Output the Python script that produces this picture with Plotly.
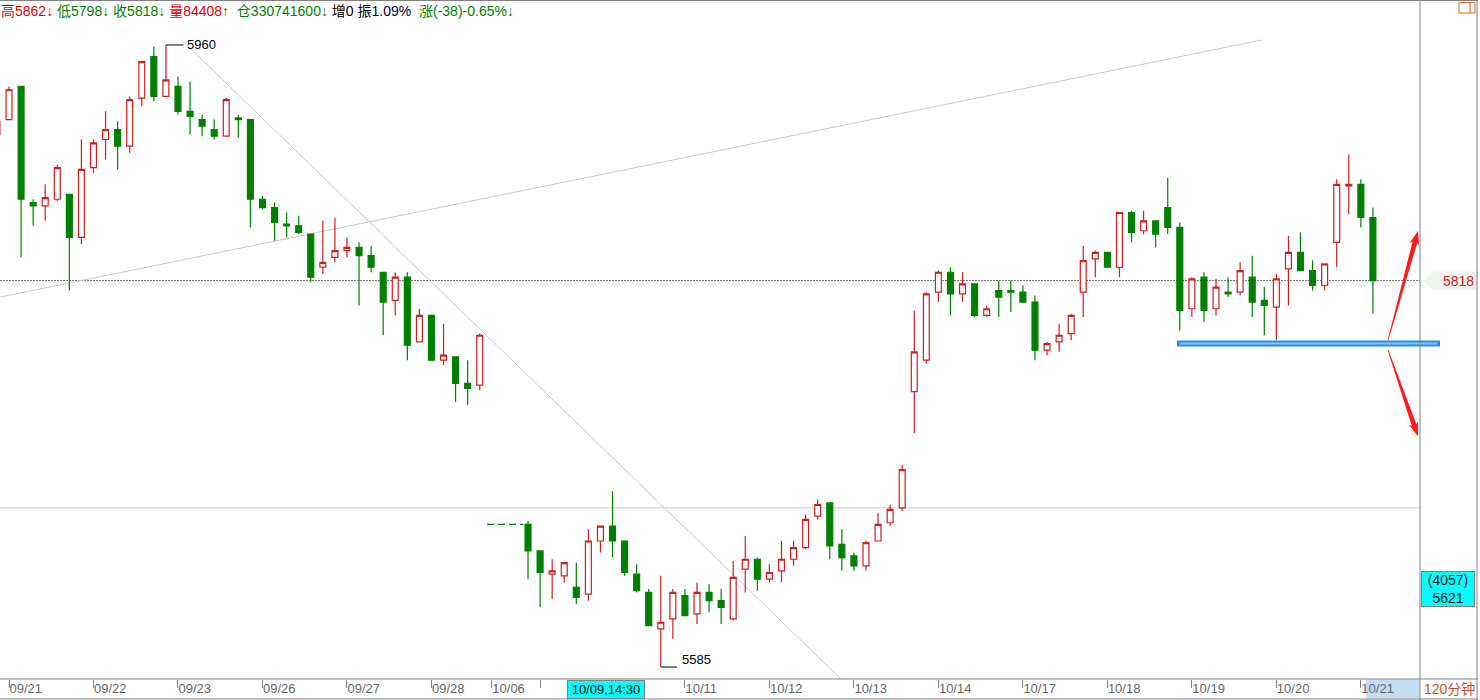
import plotly.graph_objects as go

# ---------------- data (120-minute bars) ----------------
bar_index = list(range(-1, 40)) + list(range(43, 114))
open_ = [5906, 5915, 5935, 5865, 5863, 5867, 5870, 5844, 5886, 5903, 5909, 5899, 5928, 5953, 5929,
         5935, 5920, 5915, 5909, 5905, 5916, 5915, 5867, 5862, 5852, 5851, 5846, 5826, 5832, 5836,
         5838, 5833, 5823, 5806, 5820, 5781, 5797, 5770, 5772, 5756, 5755,
         5671, 5655, 5641, 5640, 5633, 5629, 5661, 5670, 5661, 5641, 5630, 5608, 5614, 5628, 5617,
         5630, 5625, 5614, 5644, 5650, 5638, 5643, 5650, 5657, 5676, 5684, 5659, 5652, 5646, 5661,
         5672, 5681, 5751, 5770, 5811, 5823, 5810, 5816, 5797, 5812, 5812, 5811, 5805, 5776, 5781,
         5786, 5811, 5831, 5835, 5826, 5859, 5848, 5854, 5862, 5850, 5801, 5820, 5801, 5811, 5811,
         5820, 5806, 5802, 5825, 5835, 5824, 5815, 5841, 5875, 5876, 5856]
high = [5915, 5935, 5935, 5867, 5876, 5888, 5870, 5903, 5903, 5920, 5914, 5929, 5950, 5959, 5960,
        5941, 5938, 5918, 5915, 5928, 5918, 5915, 5869, 5865, 5859, 5857, 5846, 5854, 5856, 5844,
        5841, 5839, 5823, 5823, 5823, 5801, 5797, 5792, 5772, 5770, 5786,
        5673, 5655, 5650, 5648, 5648, 5668, 5670, 5691, 5661, 5647, 5632, 5640, 5632, 5632, 5636,
        5635, 5632, 5649, 5664, 5651, 5647, 5661, 5661, 5677, 5686, 5684, 5668, 5654, 5661, 5678,
        5683, 5707, 5800, 5811, 5824, 5826, 5823, 5816, 5803, 5818, 5818, 5815, 5809, 5781, 5792,
        5798, 5839, 5836, 5835, 5859, 5860, 5860, 5854, 5880, 5853, 5820, 5823, 5819, 5820, 5829,
        5833, 5814, 5822, 5845, 5847, 5830, 5828, 5879, 5894, 5879, 5862]
low = [5905, 5915, 5832, 5851, 5854, 5866, 5812, 5840, 5883, 5891, 5885, 5895, 5923, 5926, 5929,
       5918, 5906, 5905, 5903, 5905, 5904, 5850, 5861, 5842, 5844, 5846, 5817, 5822, 5829, 5832,
       5803, 5823, 5785, 5797, 5770, 5781, 5770, 5767, 5745, 5743, 5752,
       5638, 5621, 5626, 5636, 5623, 5625, 5654, 5651, 5640, 5630, 5610, 5585, 5602, 5616, 5611,
       5618, 5611, 5613, 5630, 5631, 5636, 5636, 5646, 5656, 5674, 5650, 5643, 5643, 5643, 5661,
       5670, 5679, 5726, 5768, 5805, 5797, 5805, 5796, 5796, 5796, 5799, 5805, 5770, 5773, 5775,
       5782, 5796, 5820, 5826, 5820, 5841, 5846, 5838, 5846, 5788, 5796, 5793, 5797, 5808, 5809,
       5796, 5785, 5782, 5803, 5824, 5812, 5812, 5826, 5858, 5850, 5798]
close = [5914, 5933, 5867, 5863, 5868, 5886, 5844, 5885, 5901, 5909, 5899, 5927, 5950, 5929, 5939,
         5920, 5917, 5911, 5905, 5927, 5915, 5867, 5862, 5853, 5851, 5847, 5820, 5829, 5836, 5838,
         5833, 5826, 5805, 5820, 5779, 5797, 5770, 5773, 5756, 5753, 5785,
         5655, 5642, 5643, 5648, 5627, 5661, 5670, 5661, 5642, 5631, 5610, 5612, 5630, 5616, 5630,
         5625, 5621, 5639, 5650, 5638, 5642, 5650, 5657, 5674, 5683, 5658, 5651, 5646, 5660, 5671,
         5680, 5704, 5775, 5810, 5823, 5810, 5816, 5797, 5801, 5808, 5811, 5805, 5776, 5780, 5785,
         5797, 5830, 5835, 5826, 5859, 5847, 5854, 5846, 5850, 5800, 5819, 5800, 5814, 5810, 5824,
         5805, 5803, 5819, 5835, 5824, 5815, 5828, 5876, 5876, 5856, 5818]

tick_index = [0, 7, 14, 21, 28, 35, 40, 44, 56, 63, 70, 77, 84, 91, 98, 105, 112]
tick_text = ['09/21', '09/22', '09/23', '09/26', '09/27', '09/28', '10/06', '', '10/11',
             '10/12', '10/13', '10/14', '10/17', '10/18', '10/19', '10/20', '10/21']

holiday_span = [39.6, 42.6]          # no-trade bars drawn dashed
holiday_price = 5671
ref_line_price = 5681
support_price = 5780
trend_up_i, trend_up_p = [-0.75, 103.8], [5808, 5963]
trend_dn_i, trend_dn_p = [14.3, 68.9], [5963, 5578]
arrow_up_pts = [(114.25, 5782), (116.74, 5848)]
arrow_dn_pts = [(114.25, 5776), (116.74, 5724)]
cursor_index = 49.5
cursor_label = '10/09,14:30'
cursor_box = ['(4057)', '5621']
cursor_price = 5621
period_label = '120分钟'
volume_txt, oi_txt, oi_chg_txt, amp_txt, chg_txt = '84408', '330741600', '0', '1.09%', '(-38)-0.65%'

RED = '#CC1F1F'
GREEN = '#008000'
GRAY = '#808080'
FONT = 'Liberation Sans, Noto Sans CJK SC, sans-serif'

x_range = [-0.746, 116.9]
y_range = [5577.8, 5987.1]
PLOT_W, PLOT_H = 1420, 679

fig = go.Figure()

fig.add_trace(go.Candlestick(
    x=bar_index, open=open_, high=high, low=low, close=close,
    increasing=dict(line=dict(color=RED, width=1.2), fillcolor='white'),
    decreasing=dict(line=dict(color=GREEN, width=1.2), fillcolor=GREEN),
    whiskerwidth=0, hoverinfo='skip', showlegend=False))

fig.add_trace(go.Scatter(x=holiday_span, y=[holiday_price] * 2, mode='lines',
                         line=dict(color=GREEN, width=1.2, dash='7px,4px'),
                         hoverinfo='skip', showlegend=False))

shapes = []
shapes.append(dict(type='line', xref='x', yref='y', x0=trend_up_i[0], x1=trend_up_i[1],
                   y0=trend_up_p[0], y1=trend_up_p[1], line=dict(color='#C8C8C8', width=1), layer='below'))
shapes.append(dict(type='line', xref='x', yref='y', x0=trend_dn_i[0], x1=trend_dn_i[1],
                   y0=trend_dn_p[0], y1=trend_dn_p[1], line=dict(color='#C8C8C8', width=1), layer='below'))
shapes.append(dict(type='line', xref='paper', yref='y', x0=0, x1=1, y0=ref_line_price, y1=ref_line_price,
                   line=dict(color='#CCCCCC', width=1), layer='below'))
shapes.append(dict(type='line', xref='paper', yref='y', x0=0, x1=1, y0=close[-1], y1=close[-1],
                   line=dict(color='#777777', width=1, dash='2px,1px'), layer='below'))

sx0, sx1 = 1177 / PLOT_W, 1440 / PLOT_W
shapes.append(dict(type='line', xref='paper', yref='y', x0=sx0, x1=sx1, y0=support_price, y1=support_price,
                   line=dict(color='#2E8DE6', width=6)))
shapes.append(dict(type='line', xref='paper', yref='y', x0=sx0 + 0.002, x1=sx1 - 0.002, y0=support_price,
                   y1=support_price, line=dict(color='#7CC8FF', width=2)))

px_i = PLOT_W / (x_range[1] - x_range[0])
px_p = PLOT_H / (y_range[1] - y_range[0])


def wedge(p0, p1):
    dx = (p1[0] - p0[0]) * px_i
    dy = -(p1[1] - p0[1]) * px_p
    L = (dx * dx + dy * dy) ** 0.5
    ux, uy = dx / L, dy / L
    nx, ny = -uy, ux

    def pt(along, off):
        X = along * ux + off * nx
        Y = along * uy + off * ny
        return p0[0] + X / px_i, p0[1] - Y / px_p

    pts = [pt(0, 0.4), pt(L - 12, 2.4), pt(L - 14, 4.8), pt(L, 0), pt(L - 14, -4.8), pt(L - 12, -2.4), pt(0, -0.4)]
    return 'M ' + ' L '.join(f'{a:.4f},{b:.3f}' for a, b in pts) + ' Z'


for pts in (arrow_up_pts, arrow_dn_pts):
    shapes.append(dict(type='path', xref='x', yref='y', path=wedge(pts[0], pts[1]),
                       fillcolor='#FF1A1A', line=dict(width=0)))

i_hi = bar_index[high.index(max(high))]
i_lo = bar_index[low.index(min(low))]
shapes.append(dict(type='line', xref='x', yref='y', x0=i_hi, x1=i_hi + 1.45, y0=max(high), y1=max(high),
                   line=dict(color='black', width=1)))
shapes.append(dict(type='line', xref='x', yref='y', x0=i_lo, x1=i_lo + 1.35, y0=min(low), y1=min(low),
                   line=dict(color='black', width=1)))

yl_top, yl_bot = close[-1] + 5.5, close[-1] - 5.5
shapes.append(dict(type='path', xref='paper', yref='y',
                   path=f'M {1424/PLOT_W},{close[-1]} L {1433/PLOT_W},{yl_top} L {1478/PLOT_W},{yl_top} '
                        f'L {1478/PLOT_W},{yl_bot} L {1433/PLOT_W},{yl_bot} Z',
                   fillcolor='#EEF3EE', line=dict(width=0)))


def px2x(px):
    return px / PLOT_W


def py2y(py):
    return 1 - py / PLOT_H


frame = [((0, 0.5), (1478, 0.5)), ((0, 679), (1478, 679)), ((0, 699), (1478, 699)),
         ((1420, 0), (1420, 700)), ((1477, 0), (1477, 700))]
for (a, b) in frame:
    shapes.append(dict(type='line', xref='paper', yref='paper', x0=px2x(a[0]), y0=py2y(a[1]),
                       x1=px2x(b[0]), y1=py2y(b[1]), line=dict(color=GRAY, width=1)))

shapes.append(dict(type='rect', xref='paper', yref='paper', x0=px2x(1366), x1=px2x(1419.5),
                   y0=py2y(698.5), y1=py2y(679.5), fillcolor='#C5DCF5', line=dict(width=0), layer='below'))
shapes.append(dict(type='rect', xref='paper', yref='paper', x0=px2x(1459), x1=px2x(1475),
                   y0=py2y(13), y1=py2y(2.5), line=dict(color='#D2692A', width=1), fillcolor='rgba(0,0,0,0)'))
shapes.append(dict(type='line', xref='paper', yref='paper', x0=px2x(1470), x1=px2x(1470),
                   y0=py2y(13), y1=py2y(2.5), line=dict(color='#D2692A', width=1)))

annotations = []
hdr = (f'<span style="color:#E00000">高{high[-1]}↓</span> '
       f'<span style="color:{GREEN}">低{low[-1]}↓</span> '
       f'<span style="color:{GREEN}">收{close[-1]}↓</span> '
       f'<span style="color:#E00000">量{volume_txt}↑</span>  '
       f'<span style="color:{GREEN}">仓{oi_txt}↓</span> '
       f'<span style="color:#000000">增{oi_chg_txt}</span> '
       f'<span style="color:#000000">振</span><span style="color:#000033">{amp_txt}</span>  '
       f'<span style="color:{GREEN}">涨{chg_txt}↓</span>')
annotations.append(dict(xref='paper', yref='paper', x=0, y=py2y(11), xanchor='left', yanchor='middle',
                        text=hdr, showarrow=False, font=dict(family=FONT, size=14), borderpad=0))
annotations.append(dict(xref='x', yref='y', x=i_hi + 1.6, y=max(high), xanchor='left', yanchor='middle',
                        text=str(max(high)), showarrow=False, font=dict(family=FONT, size=13, color='black')))
annotations.append(dict(xref='x', yref='y', x=i_lo + 1.6, y=min(low), xanchor='left', yanchor='middle',
                        yshift=8, text=str(min(low)), showarrow=False,
                        font=dict(family=FONT, size=13, color='black')))
annotations.append(dict(xref='paper', yref='y', x=px2x(1458), y=close[-1], xanchor='center', yanchor='middle',
                        text=str(close[-1]), showarrow=False, font=dict(family=FONT, size=14, color='#D02020')))
annotations.append(dict(xref='paper', yref='y', x=px2x(1421), y=cursor_price, xanchor='left', yanchor='bottom',
                        text='<br>'.join(cursor_box), showarrow=False, bgcolor='#00FFFF', bordercolor=GRAY,
                        borderwidth=1, width=52, height=34, borderpad=0,
                        font=dict(family=FONT, size=14, color='#111111')))
annotations.append(dict(xref='x', yref='paper', x=cursor_index, y=py2y(689), xanchor='center', yanchor='middle',
                        text=cursor_label, showarrow=False, bgcolor='#00FFFF', bordercolor=GRAY, borderwidth=1,
                        width=76, height=17, borderpad=0, font=dict(family=FONT, size=13, color='black')))
annotations.append(dict(xref='paper', yref='paper', x=px2x(1449), y=py2y(689), xanchor='center', yanchor='middle',
                        text=period_label, showarrow=False, font=dict(family=FONT, size=14, color='#C8501E')))

fig.update_layout(
    width=1480, height=700,
    margin=dict(l=0, r=60, t=0, b=21, autoexpand=False),
    paper_bgcolor='white', plot_bgcolor='white', showlegend=False,
    xaxis=dict(range=x_range, rangeslider=dict(visible=False), tickmode='array', tickvals=tick_index,
               ticktext=tick_text, ticks='outside', ticklen=8, tickcolor=GRAY, tickwidth=1,
               ticklabelposition='outside right', ticklabelstandoff=-3, showgrid=False, zeroline=False,
               showline=False, automargin=False, tickfont=dict(family=FONT, size=13, color='#666666')),
    yaxis=dict(range=y_range, side='right', showticklabels=False, showgrid=False, zeroline=False,
               ticks='', automargin=False, fixedrange=True),
    shapes=shapes, annotations=annotations,
)

fig.write_html('out.html', config={'displayModeBar': False},
               post_script="document.body.style.margin='0';document.body.style.overflow='hidden';")
